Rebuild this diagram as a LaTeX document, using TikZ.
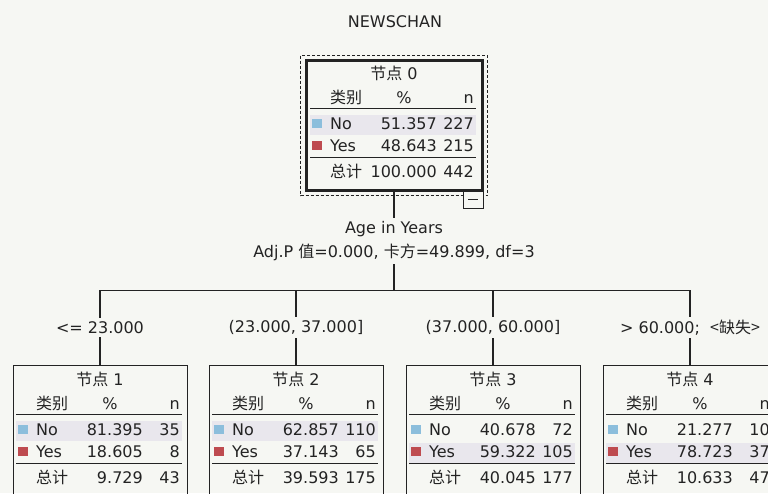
\documentclass[tikz,border=0pt]{standalone}
\usepackage{fontspec}
\setmainfont{DejaVu Sans}
\newfontfamily\cjk{Noto Sans CJK SC}
\usetikzlibrary{calc}

\definecolor{bgcol}{RGB}{246,247,243}
\definecolor{bandcol}{RGB}{233,231,237}
\definecolor{nocol}{RGB}{140,190,220}
\definecolor{yescol}{RGB}{190,75,80}
\definecolor{inkcol}{RGB}{35,35,35}

\begin{document}
\begin{tikzpicture}[
  x=1pt, y=-1pt,
  font=\fontsize{16}{19}\selectfont,
  cell/.style={inner sep=0pt, text=inkcol},
  treenode/.style={rectangle, draw=inkcol, line width=1pt, minimum width=174,
                   minimum height=130, inner sep=0pt},
  selnode/.style={line width=3pt, minimum width=176},
  selbox/.style={draw=inkcol, line width=1.2pt, dash pattern=on 3pt off 2pt},
  togglebox/.style={rectangle, draw=inkcol, line width=1pt, fill=bgcol,
                    minimum width=20, minimum height=17, inner sep=0pt,
                    path picture={\draw[inkcol, line width=1.2pt]
                      (path picture bounding box.center) +(-5,0) -- +(5,0);}},
  branch/.style={draw=inkcol, line width=1.2pt},
  sepline/.style={draw=inkcol, line width=1.6pt},
  band/.style={fill=bandcol},
  splitlab/.style={fill=bgcol, align=center, inner sep=3pt, text=inkcol,
                   font=\fontsize{16}{24}\selectfont},
  edgelab/.style={fill=bgcol, inner sep=3pt, text=inkcol}
]
% #1 node, #2 number, #3-#8 No/Yes/total (% and n), #9 modal row
\newcommand{\nodetable}[9]{%
  \fill[band] ($(#1.north)+(-84,{34+22*#9})$) rectangle ($(#1.north)+(82,{54+22*#9})$);
  \node[cell, anchor=base] at ($(#1.north)+(0,21)$) {{\cjk 节点} #2};
  \node[cell, anchor=base west] at ($(#1.north)+(-64,45)$) {\cjk 类别};
  \node[cell, anchor=base] at ($(#1.north)+(10,45)$) {\%};
  \node[cell, anchor=base east] at ($(#1.north)+(80,45)$) {n};
  \draw[sepline] ($(#1.north)+(-84,50)$) -- ($(#1.north)+(82,50)$);
  \fill[nocol] ($(#1.north)+(-82,60)$) rectangle ($(#1.north)+(-72,69)$);
  \node[cell, anchor=base west] at ($(#1.north)+(-64,71)$) {No};
  \node[cell, anchor=base east] at ($(#1.north)+(43,71)$) {#3};
  \node[cell, anchor=base east] at ($(#1.north)+(80,71)$) {#4};
  \fill[yescol] ($(#1.north)+(-82,82)$) rectangle ($(#1.north)+(-72,91)$);
  \node[cell, anchor=base west] at ($(#1.north)+(-64,93)$) {Yes};
  \node[cell, anchor=base east] at ($(#1.north)+(43,93)$) {#5};
  \node[cell, anchor=base east] at ($(#1.north)+(80,93)$) {#6};
  \draw[sepline] ($(#1.north)+(-84,99)$) -- ($(#1.north)+(82,99)$);
  \node[cell, anchor=base west] at ($(#1.north)+(-64,119)$) {\cjk 总计};
  \node[cell, anchor=base east] at ($(#1.north)+(43,119)$) {#7};
  \node[cell, anchor=base east] at ($(#1.north)+(80,119)$) {#8};
}

\path[fill=bgcol, use as bounding box] (0,0) rectangle (768,493);
\clip (0,0) rectangle (768,493);

% ---------- Title ----------
\node[cell, anchor=base] (title) at (395,27) {NEWSCHAN};

% ---------- Nodes ----------
\node[treenode, selnode] (n0) at (394,125) {};
\foreach \i/\x in {1/100,2/296,3/493,4/690}
  \node[treenode] (n\i) at (\x,430) {};

\nodetable{n0}{0}{51.357}{227}{48.643}{215}{100.000}{442}{1}
\nodetable{n1}{1}{81.395}{35}{18.605}{8}{9.729}{43}{1}
\nodetable{n2}{2}{62.857}{110}{37.143}{65}{39.593}{175}{1}
\nodetable{n3}{3}{40.678}{72}{59.322}{105}{40.045}{177}{2}
\nodetable{n4}{4}{21.277}{10}{78.723}{37}{10.633}{47}{2}

% selected node frame and collapse toggle
\draw[selbox] ($(n0.north west)+(-4,-3)$) rectangle ($(n0.south east)+(4,4)$);
\node[togglebox] (n0toggle) at (473,199.5) {};

% ---------- Split ----------
\coordinate (bar) at ($(n0.south)+(0,99)$);
\draw[branch] (n0.south) -- node[splitlab]
  {Age in Years\\Adj.P {\cjk 值}=0.000, {\cjk 卡方}=49.899, df=3} (bar);

\foreach \i/\lab in {1/{<= 23.000}, 2/{(23.000, 37.000]}, 3/{(37.000, 60.000]},
                     4/{> 60.000;\ \ {\cjk <缺失>}}}
  \draw[branch] (bar) -| node[edgelab, pos=0.75] {\lab} (n\i.north);

\end{tikzpicture}
\end{document}
